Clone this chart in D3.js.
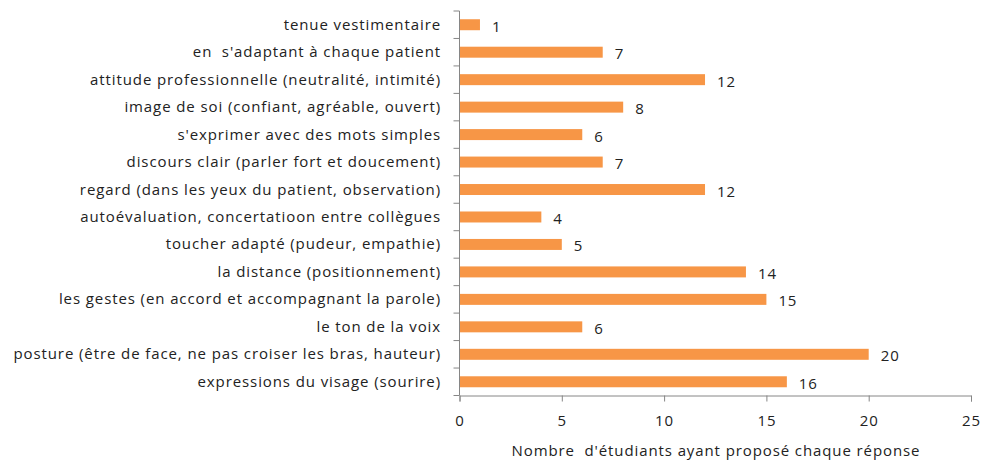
<!DOCTYPE html>
<html>
<head>
<meta charset="utf-8">
<script src="https://cdn.jsdelivr.net/npm/d3@7"></script>
<style>
  body { margin: 0; background: #fff; }
  text { font-family: "Open Sans", "Noto Sans", sans-serif; fill: #222; letter-spacing: 0.9px; white-space: pre; }
</style>
</head>
<body>
<svg id="chart" width="984" height="461"></svg>
<script>
// categories du haut vers le bas
var categories = [
  "tenue vestimentaire",
  "en  s'adaptant à chaque patient",
  "attitude professionnelle (neutralité, intimité)",
  "image de soi (confiant, agréable, ouvert)",
  "s'exprimer avec des mots simples",
  "discours clair (parler fort et doucement)",
  "regard (dans les yeux du patient, observation)",
  "autoévaluation, concertatioon entre collègues",
  "toucher adapté (pudeur, empathie)",
  "la distance (positionnement)",
  "les gestes (en accord et accompagnant la parole)",
  "le ton de la voix",
  "posture (être de face, ne pas croiser les bras, hauteur)",
  "expressions du visage (sourire)"
];
var values = [1, 7, 12, 8, 6, 7, 12, 4, 5, 14, 15, 6, 20, 16];
var xTicks = [0, 5, 10, 15, 20, 25];
var xTitle = "Nombre  d'étudiants ayant proposé chaque réponse";

var svg = d3.select("#chart");
var mLeft = 459.5, mRight = 971, mTop = 11, mBottom = 395.5;
var fs = 15;

var x = d3.scaleLinear().domain([0, 25]).range([mLeft, mRight]);
var y = d3.scaleBand().domain(categories).range([mTop, mBottom]).paddingInner(0.6).paddingOuter(0.3);

var axisColor = "#868686";

// barres
svg.selectAll("rect.bar").data(values).enter().append("rect")
  .attr("class", "bar")
  .attr("x", x(0))
  .attr("y", (d, i) => y(categories[i]))
  .attr("width", d => x(d) - x(0))
  .attr("height", y.bandwidth())
  .attr("fill", "#F79646");

// valeurs
svg.selectAll("text.val").data(values).enter().append("text")
  .attr("class", "val")
  .attr("x", d => x(d) + 12)
  .attr("y", (d, i) => y(categories[i]) + y.bandwidth() / 2 + 7)
  .attr("font-size", fs)
  .text(d => d);

// axe y
var step = (mBottom - mTop) / categories.length;
svg.append("line").attr("x1", mLeft).attr("x2", mLeft).attr("y1", mTop).attr("y2", mBottom)
  .attr("stroke", axisColor);
for (let i = 0; i <= categories.length; i++) {
  svg.append("line").attr("x1", mLeft - 6).attr("x2", mLeft)
    .attr("y1", mTop + i * step).attr("y2", mTop + i * step).attr("stroke", axisColor);
}
svg.selectAll("text.cat").data(categories).enter().append("text")
  .attr("class", "cat")
  .attr("x", 441)
  .attr("y", d => y(d) + y.bandwidth() / 2 + 5)
  .attr("text-anchor", "end")
  .attr("font-size", fs)
  .text(d => d);

// axe x
var xAxis = svg.append("g").attr("transform", `translate(0,${mBottom})`)
  .call(d3.axisBottom(x).tickValues(xTicks).tickSize(6).tickPadding(14));
xAxis.select(".domain").attr("stroke", axisColor);
xAxis.selectAll(".tick line").attr("stroke", axisColor);
xAxis.selectAll(".tick text").attr("font-size", fs).attr("fill", "#222")
  .style("font-family", '"Open Sans", "Noto Sans", sans-serif');

svg.append("text")
  .attr("x", 716)
  .attr("y", 456)
  .attr("text-anchor", "middle")
  .attr("font-size", fs)
  .text(xTitle);
</script>
</body>
</html>
